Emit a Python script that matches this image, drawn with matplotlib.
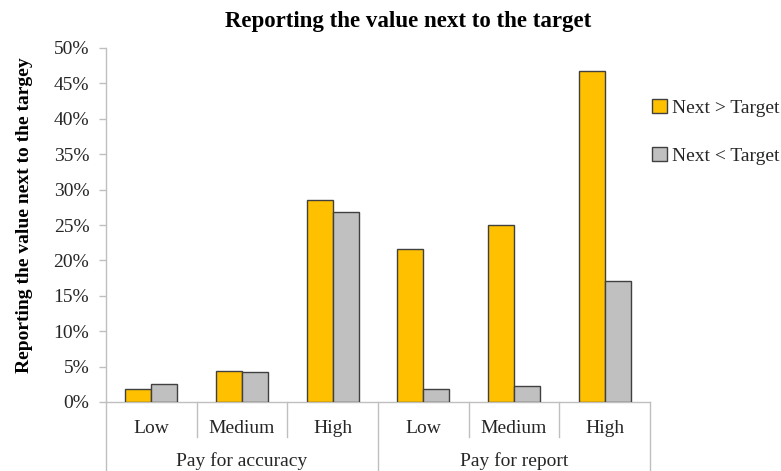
import matplotlib
matplotlib.use("Agg")
import matplotlib.pyplot as plt
from matplotlib.transforms import blended_transform_factory
from matplotlib.ticker import PercentFormatter

categories = ["Low", "Medium", "High", "Low", "Medium", "High"]
groups = ["Pay for accuracy", "Pay for report"]
next_greater = [1.9, 4.4, 28.6, 21.6, 25.0, 46.7]
next_less = [2.5, 4.2, 26.8, 1.8, 2.3, 17.1]
series_names = ["Next > Target", "Next < Target"]
yticks = [0, 5, 10, 15, 20, 25, 30, 35, 40, 45, 50]

plt.rcParams['font.family'] = ['Liberation Serif', 'DejaVu Serif']

W, H = 781, 471
fig = plt.figure(figsize=(W / 100, H / 100), dpi=100)
x0, x1, y0, y1 = 106, 650, 402, 48
ax = fig.add_axes([x0 / W, 1 - y0 / H, (x1 - x0) / W, (y0 - y1) / H])

axis_col = "#BFBFBF"
text_col = "#262626"
fs = 14
bw = 1 / 3.5
xs = list(range(len(categories)))
ax.bar([x - bw / 2 for x in xs], next_greater, width=bw, color="#FFC000",
       edgecolor="#404040", linewidth=1.0, label=series_names[0], zorder=3)
ax.bar([x + bw / 2 for x in xs], next_less, width=bw, color="#C0C0C0",
       edgecolor="#404040", linewidth=1.0, label=series_names[1], zorder=3)

ax.set_xlim(-0.5, len(categories) - 0.5)
ax.set_ylim(0, 50)
ax.set_yticks(yticks)
ax.yaxis.set_major_formatter(PercentFormatter(decimals=0))
ax.tick_params(axis='y', colors=axis_col, labelcolor=text_col, labelsize=14,
               length=5, width=1, direction='out', pad=7)
for s in ["top", "right"]:
    ax.spines[s].set_visible(False)
for s in ["left", "bottom"]:
    ax.spines[s].set_color(axis_col)
    ax.spines[s].set_linewidth(1)

ax.set_xticks(xs)
ax.set_xticklabels(categories)
ax.tick_params(axis='x', length=0, labelsize=fs, labelcolor=text_col, pad=13)

tr = blended_transform_factory(ax.transData, fig.transFigure)
for b in [i - 0.5 for i in range(len(categories) + 1)]:
    yb = 0.0 if b in (-0.5, 2.5, 5.5) else 1 - 437 / H
    fig.add_artist(plt.Line2D([b, b], [1 - y0 / H, yb], transform=tr,
                              color=axis_col, linewidth=1, clip_on=False))

for g, cx in zip(groups, [1.0, 4.0]):
    fig.text(cx, 1 - 461 / H, g, transform=tr, ha='center', va='center',
             fontsize=fs, color=text_col)

fig.text(25 / W, 1 - 215 / H, "Reporting the value next to the targey",
         rotation=90, ha='center', va='center', fontsize=fs,
         fontweight='bold', color="#000000")
fig.text(408 / W, 1 - 22 / H, "Reporting the value next to the target",
         ha='center', va='center', fontsize=16.5, fontweight='bold', color="#000000")

leg = ax.legend(loc='upper left', bbox_to_anchor=(652 / W, 1 - 99 / H),
                bbox_transform=fig.transFigure, frameon=False, fontsize=fs,
                handlelength=0.75, handleheight=0.75, handletextpad=0.3,
                labelspacing=1.55, borderaxespad=0, borderpad=0)
for t in leg.get_texts():
    t.set_color(text_col)

fig.savefig("out.png", dpi=100)
